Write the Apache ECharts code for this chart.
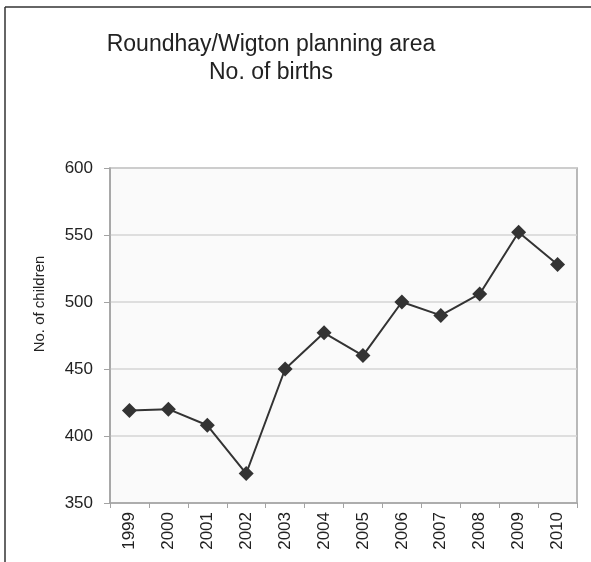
<!DOCTYPE html>
<html>
<head>
<meta charset="utf-8">
<script src="https://cdn.jsdelivr.net/npm/echarts@6/dist/echarts.min.js"></script>
<style>
  html, body { margin: 0; padding: 0; background: #fff; }
  #chart { width: 591px; height: 562px; }
</style>
</head>
<body>
<div id="chart"></div>
<script>
// data
const years = ['1999', '2000', '2001', '2002', '2003', '2004', '2005', '2006', '2007', '2008', '2009', '2010'];
const births = [419, 420, 408, 372, 450, 477, 460, 500, 490, 506, 552, 528];
const titleLines = ['Roundhay/Wigton planning area', 'No. of births'];
const yName = 'No. of children';

let chart = echarts.init(document.getElementById('chart'));
let font = '"Liberation Sans", Arial, sans-serif';

let option = {
  backgroundColor: '#fff',
  animation: false,
  graphic: [
    // frame: only top and left edges are visible in the picture
    { type: 'line', shape: { x1: 5, y1: 7, x2: 591, y2: 7 }, style: { stroke: '#333', lineWidth: 1.5 } },
    { type: 'line', shape: { x1: 5, y1: 7, x2: 5, y2: 562 }, style: { stroke: '#333', lineWidth: 1.5 } },
    {
      type: 'text', x: 271, y: 31,
      style: { text: titleLines.join('\n'), align: 'center', verticalAlign: 'top', fontSize: 23, fontFamily: font, fill: '#222', lineHeight: 28 }
    },
    {
      type: 'text', x: 40, y: 304, rotation: Math.PI / 2,
      style: { text: yName, align: 'center', verticalAlign: 'middle', fontSize: 15, fontFamily: font, fill: '#222' }
    }
  ],
  grid: {
    left: 110, top: 168, right: 14, bottom: 59,
    show: true,
    backgroundColor: '#fafafa',
    borderColor: '#a3a3a3',
    borderWidth: 1.5
  },
  xAxis: {
    type: 'category',
    data: years,
    boundaryGap: true,
    axisLine: { lineStyle: { color: '#a3a3a3', width: 1.5 } },
    axisTick: { show: true, length: 5, lineStyle: { color: '#a3a3a3' } },
    axisLabel: { rotate: 90, margin: 9, fontSize: 17, color: '#222', fontFamily: font }
  },
  yAxis: {
    type: 'value',
    min: 350, max: 600, interval: 50,
    axisLine: { show: true, lineStyle: { color: '#a3a3a3', width: 1.5 } },
    axisTick: { show: true, length: 6, lineStyle: { color: '#a3a3a3' } },
    axisLabel: { margin: 17, fontSize: 17, color: '#222', fontFamily: font },
    splitLine: { lineStyle: { color: '#d4d4d4', width: 1.5 } }
  },
  series: [{
    type: 'line',
    data: births,
    symbol: 'diamond',
    symbolSize: 15,
    lineStyle: { color: '#333', width: 2 },
    itemStyle: { color: '#333' }
  }]
};
chart.setOption(option);
</script>
</body>
</html>
